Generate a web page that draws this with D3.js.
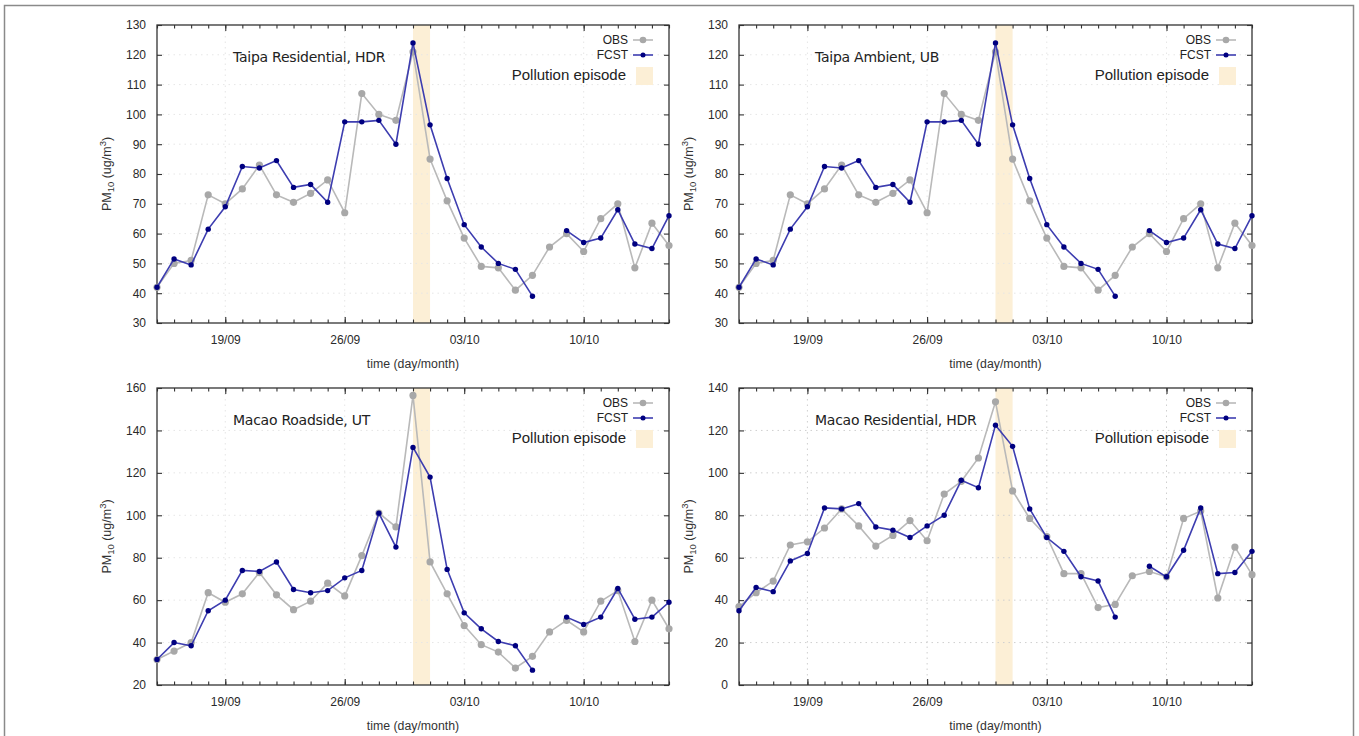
<!DOCTYPE html>
<html>
<head>
<meta charset="utf-8">
<script src="https://cdn.jsdelivr.net/npm/d3@7"></script>
<style>
  body { margin: 0; background: #fff; }
  svg { display: block; }
</style>
</head>
<body>
<div id="chart"></div>
<script>
// daily values, 15/09 .. 15/10 (31 days), null = no forecast
var startDay = "15/09/2016", endDay = "15/10/2016";
var tickLabels = ["19/09", "26/09", "03/10", "10/10"];
var episode = ["30/09/2016", "01/10/2016"];

var taipaResObs  = [42, 50, 51, 73, 70, 75, 83, 73, 70.5, 73.5, 78, 67, 107, 100, 98, 121, 85, 71, 58.5, 49, 48.5, 41, 46, 55.5, 60, 54, 65, 70, 48.5, 63.5, 56];
var taipaResFcst = [42, 51.5, 49.5, 61.5, 69, 82.5, 82, 84.5, 75.5, 76.5, 70.5, 97.5, 97.5, 98, 90, 124, 96.5, 78.5, 63, 55.5, 50, 48, 39, null, 61, 57, 58.5, 68, 56.5, 55, 66];
var taipaAmbObs  = [42, 50, 51, 73, 70, 75, 83, 73, 70.5, 73.5, 78, 67, 107, 100, 98, 121, 85, 71, 58.5, 49, 48.5, 41, 46, 55.5, 60, 54, 65, 70, 48.5, 63.5, 56];
var taipaAmbFcst = [42, 51.5, 49.5, 61.5, 69, 82.5, 82, 84.5, 75.5, 76.5, 70.5, 97.5, 97.5, 98, 90, 124, 96.5, 78.5, 63, 55.5, 50, 48, 39, null, 61, 57, 58.5, 68, 56.5, 55, 66];
var macaoRoadObs  = [32, 36, 40, 63.5, 59, 63, 73, 62.5, 55.5, 59.5, 68, 62, 81, 101, 94.5, 156.5, 78, 63, 48, 39, 35.5, 28, 33.5, 45, 50.5, 45, 59.5, 64.5, 40.5, 60, 46.5];
var macaoRoadFcst = [32, 40, 38.5, 55, 60, 74, 73.5, 78, 65, 63.5, 64.5, 70.5, 74, 101, 85, 132, 118, 74.5, 54, 46.5, 40.5, 38.5, 27, null, 52, 48.5, 52, 65.5, 51, 52, 59];
var macaoResObs  = [37, 43.5, 49, 66, 67.5, 74, 83, 75, 65.5, 70.5, 77.5, 68, 90, 96, 107, 133.5, 91.5, 78.5, 70, 52.5, 52.5, 36.5, 38, 51.5, 53.5, 51, 78.5, 82, 41, 65, 52];
var macaoResFcst = [35, 46, 44, 58.5, 62, 83.5, 83, 85.5, 74.5, 73, 69.5, 75, 80, 96.5, 93, 122.5, 112.5, 83, 69.5, 63, 51, 49, 32, null, 56, 51, 63.5, 83.5, 52.5, 53, 63];

var W = 1359, H = 736;
var parse = d3.timeParse("%d/%m/%Y");
var days = d3.timeDay.range(parse(startDay), d3.timeDay.offset(parse(endDay), 1));

var svg = d3.select("#chart").append("svg")
  .attr("width", W).attr("height", H);

// outer frame
svg.append("rect")
  .attr("x", 4.5).attr("y", 5.5)
  .attr("width", 1349).attr("height", 740)
  .attr("fill", "none").attr("stroke", "#8a8a8a").attr("stroke-width", 1.5);

var panels = [
  {title: "Taipa Residential, HDR", obs: taipaResObs, fcst: taipaResFcst, x0: 157, x1: 669, y0: 25, y1: 323, ymin: 30, ymax: 130, step: 10, grid: "#e6e6e6"},
  {title: "Taipa Ambient, UB", obs: taipaAmbObs, fcst: taipaAmbFcst, x0: 739, x1: 1252, y0: 25, y1: 323, ymin: 30, ymax: 130, step: 10, grid: "#e6e6e6"},
  {title: "Macao Roadside, UT", obs: macaoRoadObs, fcst: macaoRoadFcst, x0: 157, x1: 669, y0: 388, y1: 685, ymin: 20, ymax: 160, step: 20, grid: "#e6e6e6"},
  {title: "Macao Residential, HDR", obs: macaoResObs, fcst: macaoResFcst, x0: 739, x1: 1252, y0: 388, y1: 685, ymin: 0, ymax: 140, step: 20, grid: "#cfcfcf"}
];

panels.forEach(drawPanel);

function drawPanel(p) {
  var x = d3.scaleTime().domain([days[0], days[days.length - 1]]).range([p.x0, p.x1]);
  var y = d3.scaleLinear().domain([p.ymin, p.ymax]).range([p.y1, p.y0]);
  var g = svg.append("g");
  var yTicks = d3.range(p.ymin, p.ymax + 0.1, p.step);
  var majors = tickLabels.map(function(t) { return parse(t + "/2016"); });

  // pollution episode band
  g.append("rect")
    .attr("x", x(parse(episode[0]))).attr("y", p.y0)
    .attr("width", x(parse(episode[1])) - x(parse(episode[0])))
    .attr("height", p.y1 - p.y0)
    .attr("fill", "#fcefd6");

  // dotted grid
  g.append("g").selectAll("line").data(yTicks.slice(1, -1)).enter().append("line")
    .attr("x1", p.x0).attr("x2", p.x1)
    .attr("y1", function(d) { return y(d); }).attr("y2", function(d) { return y(d); })
    .attr("stroke", p.grid).attr("stroke-dasharray", "1.5,4");
  g.append("g").selectAll("line").data(majors).enter().append("line")
    .attr("x1", function(d) { return x(d); }).attr("x2", function(d) { return x(d); })
    .attr("y1", p.y0).attr("y2", p.y1)
    .attr("stroke", p.grid).attr("stroke-dasharray", "1.5,4");

  // axes: left / bottom with labels, right / top ticks only, all inward
  var fmt = d3.timeFormat("%d/%m");
  var left = g.append("g").attr("transform", "translate(" + p.x0 + ",0)")
    .call(d3.axisLeft(y).tickValues(yTicks).tickSize(-5).tickPadding(11));
  var right = g.append("g").attr("transform", "translate(" + p.x1 + ",0)")
    .call(d3.axisRight(y).tickValues(yTicks).tickSize(-5).tickFormat(""));
  var bottomMinor = g.append("g").attr("transform", "translate(0," + p.y1 + ")")
    .call(d3.axisBottom(x).tickValues(days).tickSize(-3.5).tickFormat(""));
  var bottom = g.append("g").attr("transform", "translate(0," + p.y1 + ")")
    .call(d3.axisBottom(x).tickValues(majors).tickSize(-6).tickPadding(12).tickFormat(fmt));
  var topMinor = g.append("g").attr("transform", "translate(0," + p.y0 + ")")
    .call(d3.axisTop(x).tickValues(days).tickSize(-3.5).tickFormat(""));
  var top = g.append("g").attr("transform", "translate(0," + p.y0 + ")")
    .call(d3.axisTop(x).tickValues(majors).tickSize(-6).tickFormat(""));

  [left, right, bottomMinor, bottom, topMinor, top].forEach(function(a) {
    a.select(".domain").remove();
    a.selectAll("line").attr("stroke", "#333").attr("stroke-width", 1.1);
    a.selectAll("text").attr("fill", "#2a2a2a").style("font-family", "Liberation Sans, Arial, sans-serif").style("font-size", "12px");
  });

  g.append("rect")
    .attr("x", p.x0).attr("y", p.y0)
    .attr("width", p.x1 - p.x0).attr("height", p.y1 - p.y0)
    .attr("fill", "none").attr("stroke", "#333").attr("stroke-width", 1.3);

  // series
  var idx = d3.range(days.length);
  var obsLine = d3.line()
    .defined(function(i) { return p.obs[i] != null; })
    .x(function(i) { return x(days[i]); }).y(function(i) { return y(p.obs[i]); });
  var fcstLine = d3.line()
    .defined(function(i) { return p.fcst[i] != null; })
    .x(function(i) { return x(days[i]); }).y(function(i) { return y(p.fcst[i]); });

  g.append("path").attr("d", obsLine(idx))
    .attr("fill", "none").attr("stroke", "#b9b9b9").attr("stroke-width", 1.6);
  g.append("g").selectAll("circle").data(idx.filter(function(i) { return p.obs[i] != null; }))
    .enter().append("circle")
    .attr("cx", function(i) { return x(days[i]); }).attr("cy", function(i) { return y(p.obs[i]); })
    .attr("r", 3.6).attr("fill", "#a8a8a8");

  g.append("path").attr("d", fcstLine(idx))
    .attr("fill", "none").attr("stroke", "#3d3db0").attr("stroke-width", 1.6);
  g.append("g").selectAll("circle").data(idx.filter(function(i) { return p.fcst[i] != null; }))
    .enter().append("circle")
    .attr("cx", function(i) { return x(days[i]); }).attr("cy", function(i) { return y(p.fcst[i]); })
    .attr("r", 2.7).attr("fill", "#000080");

  // title
  g.append("text").attr("x", p.x0 + 76).attr("y", p.y0 + 37)
    .style("font-family", "DejaVu Sans, Verdana, sans-serif").style("font-size", "14px")
    .style("letter-spacing", "-0.25px")
    .attr("fill", "#222").text(p.title);

  // legend
  var lx = p.x1 - 16;
  var lg = g.append("g").style("font-family", "Liberation Sans, Arial, sans-serif").attr("fill", "#222");
  lg.append("text").attr("x", lx - 25).attr("y", p.y0 + 19).attr("text-anchor", "end")
    .style("font-size", "12px").text("OBS");
  lg.append("line").attr("x1", lx - 20).attr("x2", lx).attr("y1", p.y0 + 15).attr("y2", p.y0 + 15)
    .attr("stroke", "#b9b9b9").attr("stroke-width", 1.6);
  lg.append("circle").attr("cx", lx - 10).attr("cy", p.y0 + 15).attr("r", 3.3).attr("fill", "#a8a8a8");
  lg.append("text").attr("x", lx - 25).attr("y", p.y0 + 34).attr("text-anchor", "end")
    .style("font-size", "12px").text("FCST");
  lg.append("line").attr("x1", lx - 20).attr("x2", lx).attr("y1", p.y0 + 30).attr("y2", p.y0 + 30)
    .attr("stroke", "#3d3db0").attr("stroke-width", 1.6);
  lg.append("circle").attr("cx", lx - 10).attr("cy", p.y0 + 30).attr("r", 2.5).attr("fill", "#000080");
  lg.append("text").attr("x", lx - 27).attr("y", p.y0 + 55).attr("text-anchor", "end")
    .style("font-size", "15px").text("Pollution episode");
  lg.append("rect").attr("x", lx - 17).attr("y", p.y0 + 42).attr("width", 17).attr("height", 18)
    .attr("fill", "#fcefd6");

  // axis titles
  var cx = (p.x0 + p.x1) / 2;
  g.append("text").attr("x", cx).attr("y", p.y1 + 45).attr("text-anchor", "middle")
    .style("font-family", "Liberation Sans, Arial, sans-serif").style("font-size", "12.3px")
    .attr("fill", "#333").text("time (day/month)");
  var yl = g.append("text")
    .attr("transform", "translate(" + (p.x0 - 46) + "," + ((p.y0 + p.y1) / 2) + ") rotate(-90)")
    .attr("text-anchor", "middle")
    .style("font-family", "Liberation Sans, Arial, sans-serif").style("font-size", "12.5px")
    .attr("fill", "#333");
  yl.append("tspan").text("PM");
  yl.append("tspan").attr("dy", 3).style("font-size", "9.5px").text("10");
  yl.append("tspan").attr("dy", -3).text(" (ug/m");
  yl.append("tspan").attr("dy", -5).style("font-size", "9.5px").text("3");
  yl.append("tspan").attr("dy", 5).text(")");
}
</script>
</body>
</html>
